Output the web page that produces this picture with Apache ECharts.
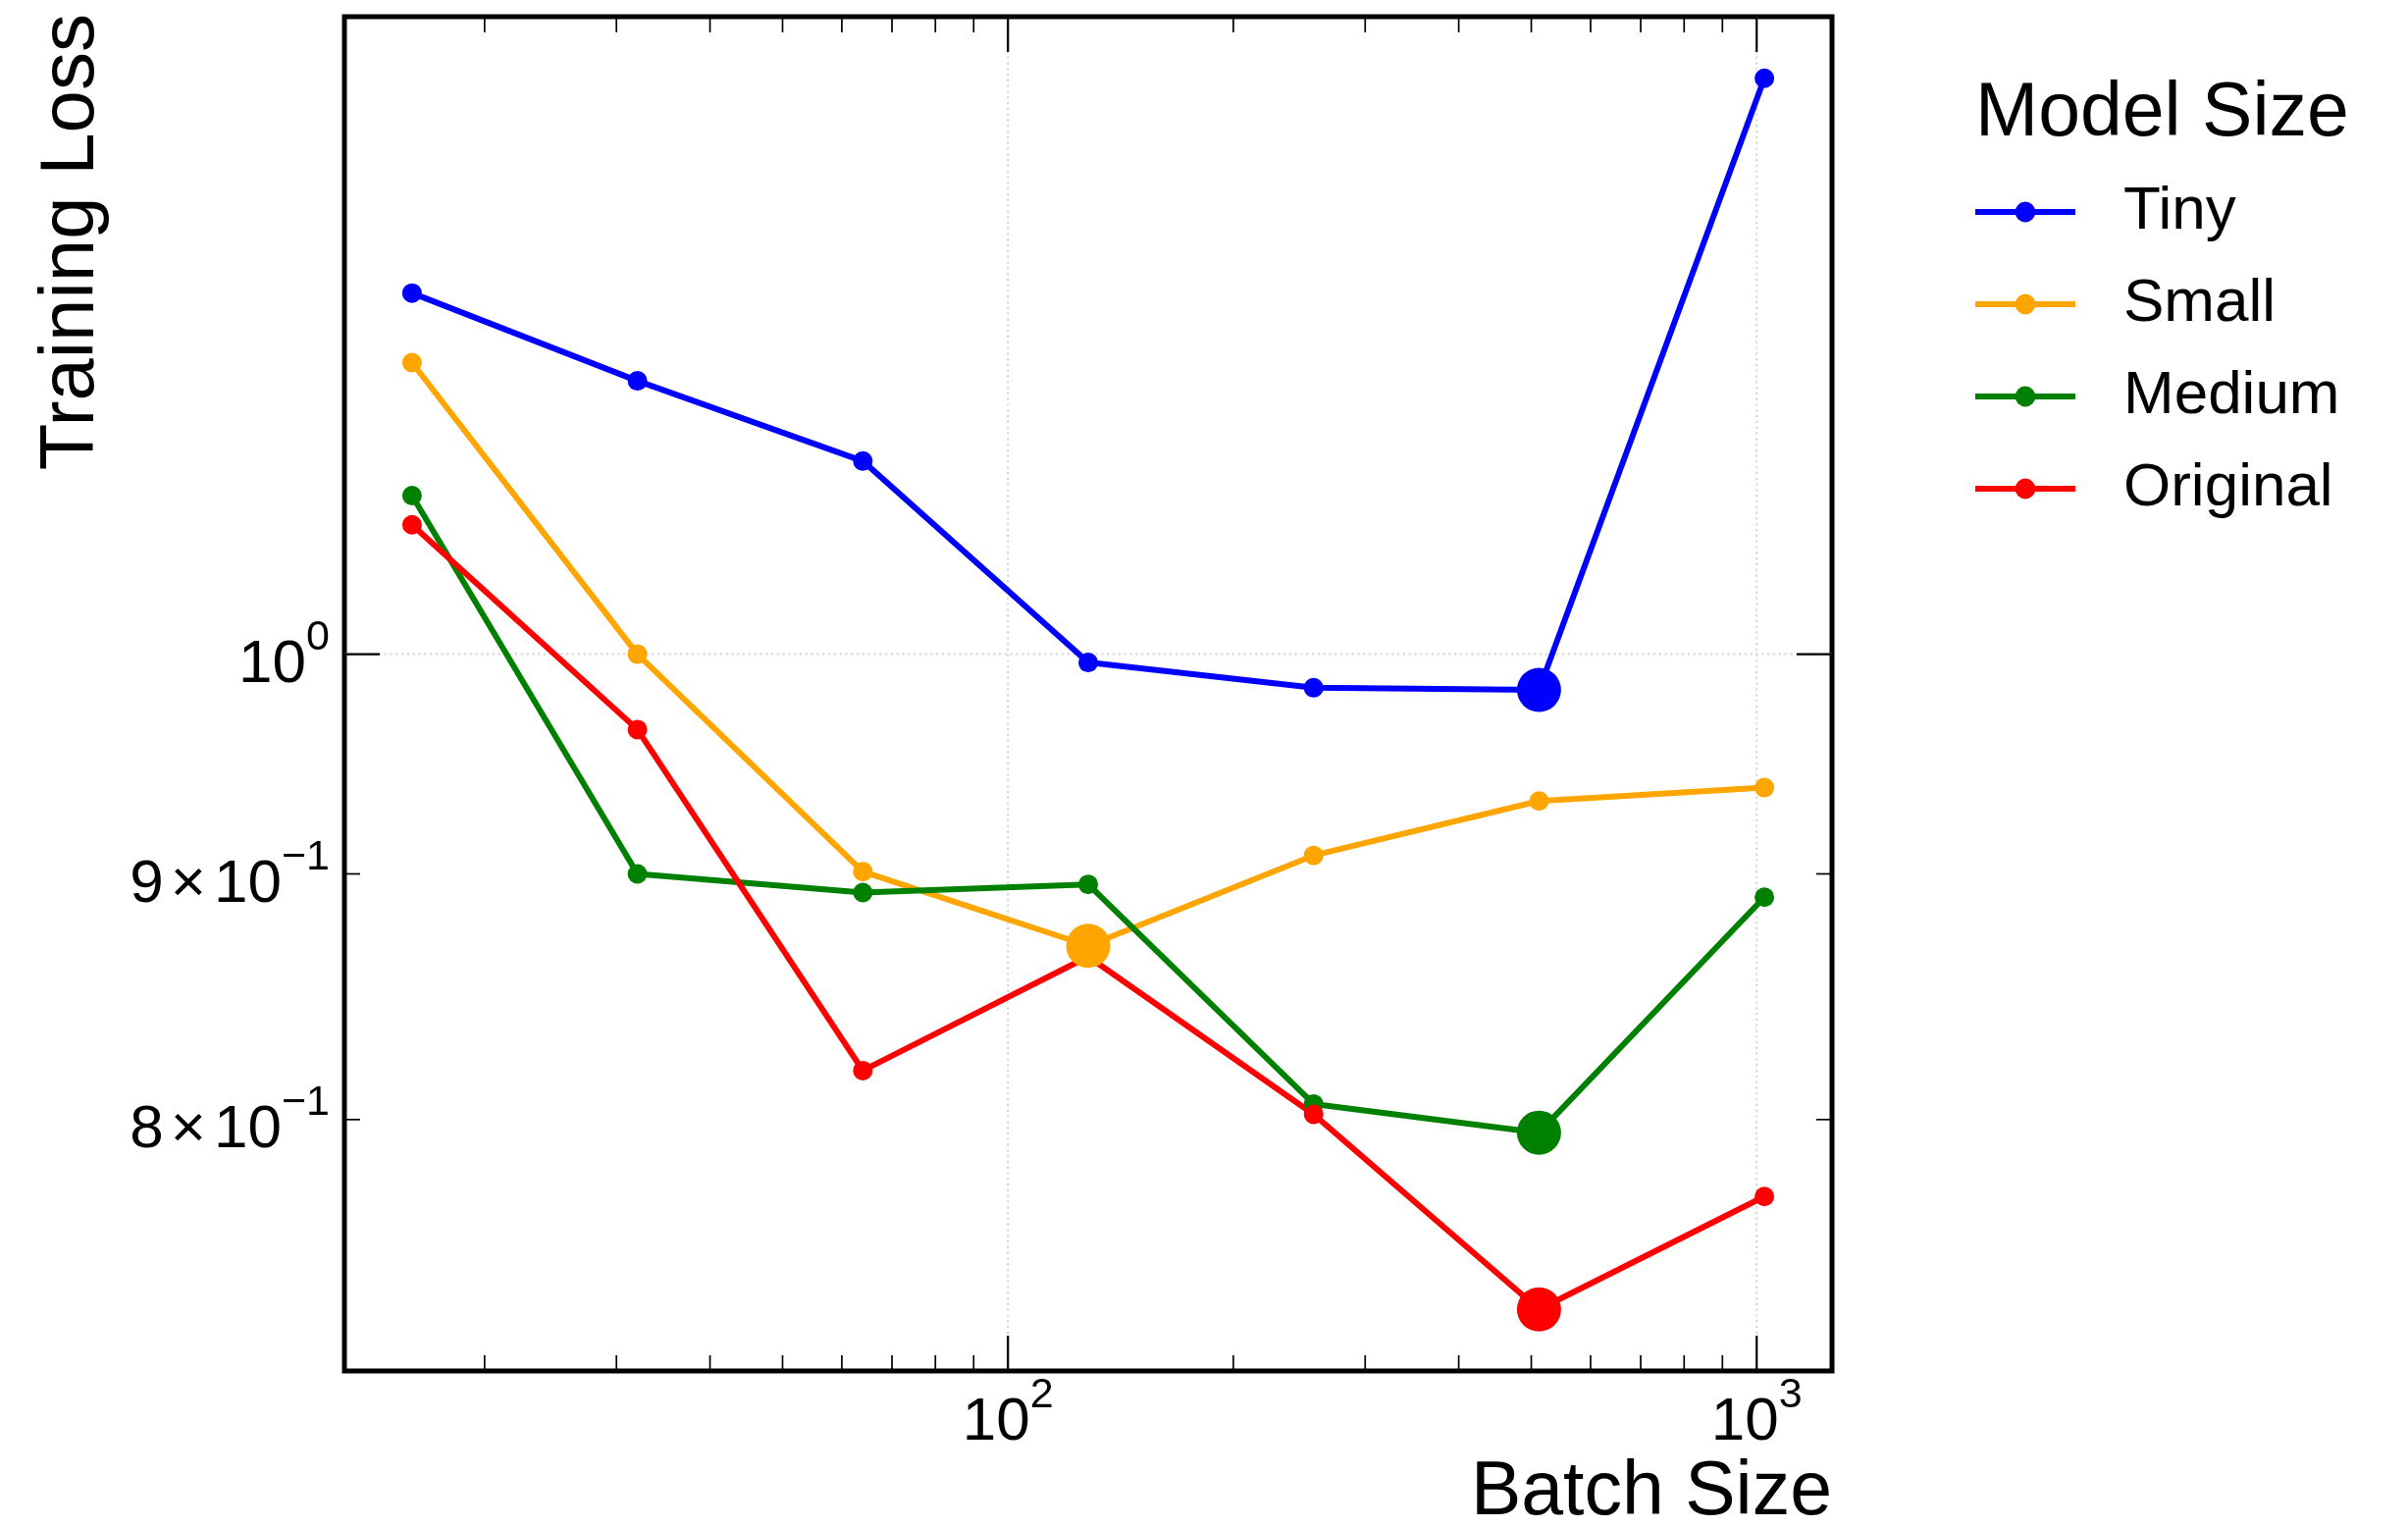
<!DOCTYPE html>
<html>
<head>
<meta charset="utf-8">
<script src="https://cdn.jsdelivr.net/npm/echarts@6/dist/echarts.min.js"></script>
<style>
  html, body { margin: 0; padding: 0; background: #ffffff; }
  #chart { width: 2454px; height: 1556px; }
</style>
</head>
<body>
<div id="chart"></div>
<script>
// Training loss per batch size for each model size
const batchSizes = [16, 32, 64, 128, 256, 512, 1024];
const modelNames = ['Tiny', 'Small', 'Medium', 'Original'];
const lossTiny = [1.189, 1.140, 1.097, 0.996, 0.984, 0.983, 1.318];
const lossSmall = [1.150, 1.000, 0.901, 0.8695, 0.908, 0.932, 0.938];
const lossMedium = [1.079, 0.900, 0.892, 0.8955, 0.806, 0.795, 0.890];
const lossOriginal = [1.064, 0.9645, 0.819, 0.865, 0.802, 0.7304, 0.771];
const modelColors = ['#0000ff', '#ffa500', '#008000', '#ff0000'];

// Axis ticks (log scales)
const xMajorTicks = [100, 1000];
const xMajorLabels = ['10^2', '10^3'];
const xMinorTicks = [20, 30, 40, 50, 60, 70, 80, 90, 200, 300, 400, 500, 600, 700, 800, 900];
const yMajorTicks = [1.0];
const yMinorTicks = [0.8, 0.9];
const yLabelValues = [1.0, 0.9, 0.8];
const yLabelTexts = ['10^0', '9 \u00d7 10^\u22121', '8 \u00d7 10^\u22121'];

const FONT = "'Liberation Sans', Arial, Helvetica, sans-serif";
const lossSeries = [lossTiny, lossSmall, lossMedium, lossOriginal];

// 5% padding on each side in log space
function logExtent(values, frac) {
  const lo = Math.log10(Math.min(...values));
  const hi = Math.log10(Math.max(...values));
  const d = (hi - lo) * frac;
  return [Math.pow(10, lo - d), Math.pow(10, hi + d)];
}
const xExt = logExtent(batchSizes, 0.05);
const yExt = logExtent([].concat(...lossSeries), 0.05);

// "a × 10^b" -> rich text with a raised exponent and a tight multiplication sign
function supText(s) {
  const parts = s.split('^');
  let base = parts[0];
  let out = '';
  const m = base.split(' \u00d7 ');
  if (m.length === 2) {
    out += '{b|' + m[0] + '}{x|\u00d7}';
    base = m[1];
  }
  return out + '{b|' + base + '}{s|' + parts[1] + '}';
}
const tickRich = {
  b: { fontSize: 62, lineHeight: 80, verticalAlign: 'bottom', fontFamily: FONT, color: '#000' },
  x: { fontSize: 62, lineHeight: 80, verticalAlign: 'bottom', fontFamily: FONT, color: '#000', padding: [0, 8, 0, 7] },
  s: { fontSize: 43, lineHeight: 40, verticalAlign: 'top', fontFamily: FONT, color: '#000' }
};

const MAJOR_LEN = 36, MINOR_LEN = 16;
const gridDash = { stroke: '#d4d4d4', lineWidth: 2, lineDash: [2.2, 3.6] };

function renderXTick(params, api) {
  const v = api.value(0);
  const major = api.value(2) === 1;
  const x = api.coord([v, 1])[0];
  const cs = params.coordSys;
  const bottom = cs.y + cs.height, top = cs.y;
  const len = major ? MAJOR_LEN : MINOR_LEN;
  const lw = major ? 2.2 : 1.7;
  const children = [];
  if (major) {
    children.push({ type: 'line', shape: { x1: x, y1: top, x2: x, y2: bottom }, style: gridDash, z2: 0 });
  }
  children.push({ type: 'line', shape: { x1: x, y1: bottom, x2: x, y2: bottom - len }, style: { stroke: '#000', lineWidth: lw }, z2: 5 });
  children.push({ type: 'line', shape: { x1: x, y1: top, x2: x, y2: top + len }, style: { stroke: '#000', lineWidth: lw }, z2: 5 });
  if (major) {
    const idx = xMajorTicks.indexOf(v);
    children.push({
      type: 'text', x: x, y: bottom + 44,
      style: { text: supText(xMajorLabels[idx]), rich: tickRich, align: 'center', verticalAlign: 'middle' }
    });
  }
  return { type: 'group', children: children };
}

function renderYTick(params, api) {
  const v = api.value(1);
  const major = api.value(2) === 1;
  const y = api.coord([100, v])[1];
  const cs = params.coordSys;
  const left = cs.x, right = cs.x + cs.width;
  const len = major ? MAJOR_LEN : MINOR_LEN;
  const lw = major ? 2.2 : 1.7;
  const children = [];
  if (major) {
    children.push({ type: 'line', shape: { x1: left, y1: y, x2: right, y2: y }, style: gridDash, z2: 0 });
  }
  children.push({ type: 'line', shape: { x1: left, y1: y, x2: left + len, y2: y }, style: { stroke: '#000', lineWidth: lw }, z2: 5 });
  children.push({ type: 'line', shape: { x1: right, y1: y, x2: right - len, y2: y }, style: { stroke: '#000', lineWidth: lw }, z2: 5 });
  const idx = yLabelValues.indexOf(v);
  if (idx >= 0) {
    children.push({
      type: 'text', x: left - 15, y: y + 2,
      style: { text: supText(yLabelTexts[idx]), rich: tickRich, align: 'right', verticalAlign: 'middle' }
    });
  }
  return { type: 'group', children: children };
}

const xTickData = xMajorTicks.map(v => [v, 1, 1]).concat(xMinorTicks.map(v => [v, 1, 0]));
const yTickData = yMajorTicks.map(v => [100, v, 1]).concat(yMinorTicks.map(v => [100, v, 0]));

const series = [
  {
    type: 'custom', name: 'xticks', renderItem: renderXTick, data: xTickData,
    silent: true, clip: false, z: 1, tooltip: { show: false }
  },
  {
    type: 'custom', name: 'yticks', renderItem: renderYTick, data: yTickData,
    silent: true, clip: false, z: 1, tooltip: { show: false }
  }
];

modelNames.forEach((name, k) => {
  series.push({
    type: 'line', name: name,
    data: batchSizes.map((b, i) => [b, lossSeries[k][i]]),
    symbol: 'circle', symbolSize: 20, showSymbol: true,
    lineStyle: { width: 6, color: modelColors[k] },
    itemStyle: { color: modelColors[k] },
    emphasis: { disabled: true },
    z: 2
  });
});

// Largest marker at each model's lowest loss
modelNames.forEach((name, k) => {
  const vals = lossSeries[k];
  let best = 0;
  vals.forEach((v, i) => { if (v < vals[best]) best = i; });
  series.push({
    type: 'scatter', name: name + ' best',
    data: [[batchSizes[best], vals[best]]],
    symbol: 'circle', symbolSize: 45,
    itemStyle: { color: modelColors[k], opacity: 1 },
    emphasis: { disabled: true },
    z: 4
  });
});

const chart = echarts.init(document.getElementById('chart'), null, { renderer: 'canvas' });
chart.setOption({
  animation: false,
  backgroundColor: '#ffffff',
  textStyle: { fontFamily: FONT },
  grid: {
    left: 351, top: 17, width: 1516, height: 1380,
    show: true, borderColor: '#000', borderWidth: 5, backgroundColor: 'transparent'
  },
  xAxis: {
    type: 'log', logBase: 10, min: xExt[0], max: xExt[1],
    axisLine: { show: false }, axisTick: { show: false }, axisLabel: { show: false },
    splitLine: { show: false }, minorTick: { show: false }, minorSplitLine: { show: false }
  },
  yAxis: {
    type: 'log', logBase: 10, min: yExt[0], max: yExt[1],
    axisLine: { show: false }, axisTick: { show: false }, axisLabel: { show: false },
    splitLine: { show: false }, minorTick: { show: false }, minorSplitLine: { show: false }
  },
  title: {
    text: 'Model Size', left: 2013, top: 78, padding: 0,
    textStyle: { fontSize: 77, fontWeight: 'normal', color: '#000', fontFamily: FONT }
  },
  legend: {
    data: modelNames,
    orient: 'vertical', left: 2010, top: 185, padding: 0,
    itemWidth: 102, itemHeight: 26, itemGap: 32,
    lineStyle: { width: 6 },
    textStyle: { fontSize: 62, color: '#000', fontFamily: FONT, padding: [0, 0, 0, 44] },
    selectedMode: false
  },
  graphic: [
    {
      type: 'text', x: 1867, y: 1522,
      style: { text: 'Batch Size', fontSize: 77, fontFamily: FONT, fill: '#000', align: 'right', verticalAlign: 'middle' }
    },
    {
      type: 'text', x: 73, y: 14, rotation: Math.PI / 2,
      style: { text: 'Training Loss', fontSize: 78, fontFamily: FONT, fill: '#000', align: 'right', verticalAlign: 'middle' }
    }
  ],
  series: series
});
</script>
</body>
</html>
